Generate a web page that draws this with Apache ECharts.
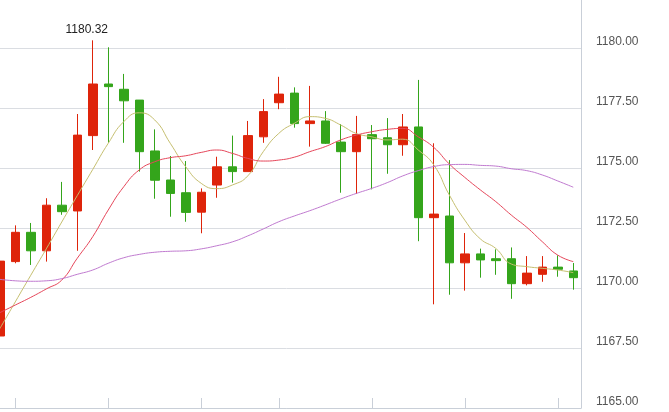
<!DOCTYPE html>
<html>
<head>
<meta charset="utf-8">
<script src="https://cdn.jsdelivr.net/npm/echarts@6/dist/echarts.min.js"></script>
<style>html,body{margin:0;padding:0;background:#fff;overflow:hidden}#c{position:absolute;left:-8px;top:0;width:677px;height:412px}</style>
</head>
<body>
<div id="c"></div>
<script>
const categories = ['1','2','3','4','5','6','7','8','9','10','11','12','13','14','15','16','17','18','19','20','21','22','23','24','25','26','27','28','29','30','31','32','33','34','35','36','37','38'];
const openV  = [1168.00,1171.10,1172.32,1171.55,1173.45,1173.21,1176.35,1178.50,1178.28,1177.83,1175.71,1174.50,1173.97,1173.16,1174.29,1175.05,1174.85,1176.30,1177.72,1178.12,1176.85,1176.96,1176.08,1175.68,1176.39,1176.26,1175.97,1176.71,1172.93,1173.00,1171.05,1171.42,1171.22,1171.22,1170.18,1170.57,1170.87,1170.71];
const closeV = [1171.12,1172.32,1171.55,1173.45,1173.18,1176.37,1178.50,1178.39,1177.80,1175.68,1174.49,1173.94,1173.15,1173.99,1175.05,1174.85,1176.35,1177.35,1178.08,1176.85,1176.96,1176.03,1175.68,1176.39,1176.22,1175.97,1176.71,1172.93,1173.08,1171.05,1171.42,1171.17,1171.14,1170.18,1170.62,1170.87,1170.78,1170.43];
const lowV   = [1167.95,1171.03,1170.96,1171.10,1173.05,1171.55,1175.75,1176.05,1176.05,1174.85,1173.72,1172.97,1172.76,1172.28,1173.76,1174.39,1174.85,1176.05,1177.45,1176.68,1175.89,1176.00,1173.97,1173.92,1174.11,1174.76,1175.51,1171.95,1169.32,1169.72,1169.89,1170.43,1170.55,1169.55,1170.11,1170.26,1170.47,1169.93];
const highV  = [1172.03,1172.61,1172.71,1173.74,1174.42,1177.25,1180.32,1180.03,1178.92,1177.83,1176.61,1175.50,1175.29,1174.15,1175.47,1176.35,1176.96,1177.87,1178.80,1178.36,1178.42,1177.37,1176.83,1177.17,1176.79,1177.08,1177.25,1178.67,1176.03,1175.33,1172.29,1171.64,1171.61,1171.69,1171.33,1171.33,1171.36,1171.04];
const ma5  = [1168.30,1169.42,1170.53,1171.63,1172.75,1173.85,1174.94,1176.03,1176.93,1177.30,1177.00,1176.03,1175.05,1174.36,1174.14,1174.29,1174.67,1175.68,1176.44,1176.86,1177.14,1177.07,1176.79,1176.44,1176.30,1176.17,1176.20,1175.75,1175.13,1173.88,1172.83,1172.05,1171.65,1171.00,1170.89,1170.82,1170.75,1170.64];
const ma10 = [1168.97,1169.29,1169.61,1169.96,1170.33,1171.24,1172.14,1173.25,1174.22,1174.92,1175.26,1175.43,1175.51,1175.65,1175.75,1175.61,1175.40,1175.29,1175.33,1175.45,1175.68,1175.89,1176.17,1176.37,1176.51,1176.61,1176.65,1176.30,1175.86,1175.17,1174.61,1174.09,1173.60,1173.04,1172.53,1171.93,1171.37,1171.10];
const ma20 = [1170.36,1170.30,1170.28,1170.30,1170.39,1170.57,1170.75,1171.03,1171.26,1171.40,1171.49,1171.53,1171.55,1171.63,1171.76,1171.92,1172.17,1172.46,1172.76,1173.00,1173.22,1173.46,1173.71,1173.94,1174.15,1174.39,1174.67,1174.89,1175.06,1175.14,1175.15,1175.11,1175.08,1174.97,1174.89,1174.71,1174.46,1174.20];
const tickIndices = [1,7,13,18,24,30,36];
const yTicks = {min:1165, max:1182, interval:2.5};

const kData = categories.map((c,i)=>[openV[i],closeV[i],lowV[i],highV[i]]);
const chart = echarts.init(document.getElementById('c'), null, {renderer:'canvas'});
const lineBase = {type:'line', smooth:true, symbol:'none', silent:true, z:3};
const gridColor = '#dadde2';
chart.setOption({
  animation:false,
  backgroundColor:'#fff',
  grid:{left:0, right:88, top:0, bottom:4, containLabel:false},
  xAxis:{type:'category', data:categories, boundaryGap:true,
    axisLine:{show:true, lineStyle:{color:'#c9cfd8', width:1}},
    axisTick:{show:true, inside:true, length:10, alignWithLabel:true,
      interval:(idx)=>tickIndices.indexOf(idx)>=0, lineStyle:{color:'#c9cfd8'}},
    axisLabel:{show:false}, splitLine:{show:false}},
  yAxis:{type:'value', position:'right', min:yTicks.min, max:yTicks.max, interval:yTicks.interval,
    axisLine:{show:true, lineStyle:{color:'#c9cfd8', width:1}},
    axisTick:{show:false},
    axisLabel:{show:true, margin:15, color:'#555', fontFamily:'Liberation Sans, Arial, sans-serif', fontSize:12,
      verticalAlign:'bottom', lineHeight:12, showMaxLabel:false, formatter:(v)=>v.toFixed(2)},
    splitLine:{show:true, lineStyle:{color:[gridColor,gridColor,gridColor,gridColor,gridColor,gridColor,gridColor,'rgba(0,0,0,0)'], width:1}}},
  series:[
    {type:'candlestick', data:kData, barWidth:9, z:2,
      itemStyle:{color:'#de240a', color0:'#34a51b', borderColor:'#de240a', borderColor0:'#34a51b', borderWidth:1},
      markPoint:{symbol:'circle', symbolSize:1, itemStyle:{color:'rgba(0,0,0,0)'},
        data:[{type:'max', valueDim:'highest'}],
        label:{show:true, position:'top', distance:4, offset:[-6,0], color:'#222', fontSize:12,
          fontFamily:'Liberation Sans, Arial, sans-serif', formatter:(p)=>Number(p.value).toFixed(2)}}},
    Object.assign({}, lineBase, {name:'MA5', data:ma5, lineStyle:{color:'#c6bf70', width:1}}),
    Object.assign({}, lineBase, {name:'MA10', data:ma10, lineStyle:{color:'#e6465a', width:1}}),
    Object.assign({}, lineBase, {name:'MA20', data:ma20, lineStyle:{color:'#c07ad0', width:1}})
  ]
});
</script>
</body>
</html>
